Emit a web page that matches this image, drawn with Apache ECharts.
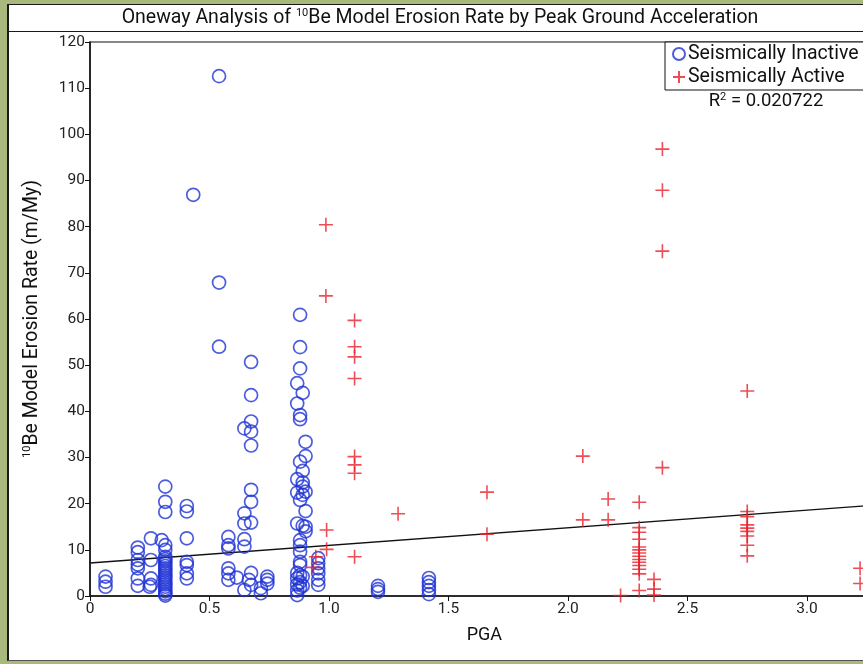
<!DOCTYPE html>
<html>
<head>
<meta charset="utf-8">
<script src="https://cdn.jsdelivr.net/npm/echarts@6/dist/echarts.min.js"></script>
<style>
  html, body { margin: 0; padding: 0; width: 863px; height: 664px; overflow: hidden; background: #a9b87c; }
  #panel { position: absolute; left: 7px; top: 4px; width: 900px; height: 655px; background: #fff;
           border-left: 2px solid #1a1a1a; border-top: 1.5px solid #1a1a1a; border-bottom: 1px solid #555; }
  #sep { position: absolute; left: 9px; top: 31px; width: 900px; height: 0; border-top: 1.5px solid #1a1a1a; }
  #chart { position: absolute; left: 0; top: 0; width: 900px; height: 664px; }
</style>
</head>
<body>
<div id="panel"></div>
<div id="sep"></div>
<div id="chart"></div>
<script>
// ---- data (PGA, erosion rate m/My) ----
const inactive = [
  [0.065, 4.2], [0.065, 3.1], [0.065, 2.0],
  [0.20, 10.5], [0.20, 9.5], [0.20, 7.8], [0.20, 6.8], [0.20, 6.0], [0.20, 3.8], [0.20, 2.2],
  [0.255, 12.5], [0.255, 7.8], [0.255, 3.8], [0.255, 2.4], [0.25, 2.0],
  [0.30, 12.1],
  [0.315, 23.7], [0.315, 20.4], [0.315, 18.2], [0.315, 11.0], [0.315, 10.0], [0.315, 8.5], [0.315, 8.0],
  [0.315, 7.5], [0.315, 7.0], [0.315, 6.5], [0.315, 6.0], [0.315, 5.5], [0.315, 5.0], [0.315, 4.5],
  [0.315, 4.0], [0.315, 3.5], [0.315, 3.0], [0.315, 2.5], [0.315, 2.0], [0.315, 1.5], [0.315, 1.0],
  [0.315, 0.5], [0.315, 0.1],
  [0.405, 19.5], [0.405, 18.3], [0.405, 12.5], [0.405, 7.4], [0.405, 6.7], [0.405, 4.9], [0.405, 3.8],
  [0.432, 86.9],
  [0.54, 112.6], [0.54, 67.9], [0.54, 54.0],
  [0.579, 12.8], [0.579, 11.0], [0.579, 10.3], [0.579, 6.0], [0.579, 4.9], [0.579, 3.5],
  [0.614, 4.0],
  [0.646, 36.3], [0.646, 17.9], [0.646, 15.7], [0.646, 12.3], [0.646, 10.7], [0.646, 1.3],
  [0.674, 50.7], [0.674, 43.5], [0.674, 37.8], [0.674, 35.6], [0.674, 32.6], [0.674, 23.0],
  [0.674, 20.4], [0.674, 15.9], [0.674, 5.0], [0.674, 2.4], [0.665, 3.5],
  [0.715, 0.6], [0.715, 1.7],
  [0.742, 3.5], [0.742, 2.7], [0.742, 4.2],
  [0.867, 46.1], [0.867, 41.7], [0.867, 25.3], [0.867, 22.4], [0.867, 15.7], [0.867, 5.0],
  [0.867, 3.8], [0.867, 2.5], [0.867, 1.2], [0.867, 0.2],
  [0.879, 60.9], [0.879, 53.9], [0.879, 49.3], [0.879, 39.2], [0.879, 38.3], [0.879, 29.1],
  [0.879, 20.8], [0.879, 12.1], [0.879, 11.0], [0.879, 9.6], [0.879, 7.4], [0.879, 6.7],
  [0.879, 4.5], [0.879, 3.0], [0.879, 1.8],
  [0.89, 44.0], [0.89, 27.1], [0.89, 24.6], [0.89, 23.7], [0.89, 21.9], [0.89, 15.2], [0.89, 4.2], [0.89, 2.2],
  [0.902, 33.4], [0.902, 30.3], [0.902, 22.6], [0.902, 18.4], [0.902, 15.0], [0.902, 14.0],
  [0.955, 8.2], [0.955, 7.1], [0.955, 6.0], [0.955, 4.9], [0.955, 3.5], [0.955, 2.4],
  [1.205, 2.2], [1.205, 1.5], [1.205, 0.9],
  [1.418, 3.9], [1.418, 3.0], [1.418, 2.2], [1.418, 1.3], [1.418, 0.4]
];
const active = [
  [0.987, 80.4], [0.987, 65.0],
  [1.107, 59.7], [1.107, 54.0], [1.107, 51.8], [1.107, 47.1], [1.107, 30.2], [1.107, 28.4],
  [1.107, 26.6], [1.107, 8.5],
  [0.99, 14.3], [0.99, 10.1], [0.945, 8.5], [0.935, 6.2],
  [1.289, 17.8],
  [1.661, 22.5], [1.661, 13.4],
  [2.062, 30.3], [2.062, 16.5],
  [2.168, 21.0], [2.168, 16.5],
  [2.22, 0.1],
  [2.298, 20.3], [2.298, 14.8], [2.298, 13.8], [2.298, 12.3], [2.298, 10.6], [2.298, 10.0],
  [2.298, 9.3], [2.298, 8.6], [2.298, 7.9], [2.298, 7.3], [2.298, 6.6], [2.298, 5.8],
  [2.298, 4.8], [2.298, 1.2],
  [2.36, 3.6], [2.36, 1.5], [2.36, 0.2],
  [2.395, 96.8], [2.395, 87.9], [2.395, 74.7], [2.395, 27.8],
  [2.75, 44.4], [2.75, 18.3], [2.75, 17.2], [2.75, 15.4], [2.75, 14.7], [2.75, 14.0],
  [2.75, 13.0], [2.75, 11.0], [2.75, 8.7],
  [3.222, 6.0], [3.222, 2.7]
];
const fitLine = [[0, 7.15], [3.3, 19.75]];
const seriesNames = ['Seismically Inactive', 'Seismically Active'];
const xTickLabels = ['0', '0.5', '1.0', '1.5', '2.0', '2.5', '3.0'];
const yTickLabels = ['0', '10', '20', '30', '40', '50', '60', '70', '80', '90', '100', '110', '120'];
const titleText = 'Oneway Analysis of {sup|10}Be Model Erosion Rate by Peak Ground Acceleration';
const yName = '{sup|10}Be Model Erosion Rate (m/My)';
const xName = 'PGA';
const r2Text = 'R{sup|2} = 0.020722';

const FONT = 'Roboto';
const BLUE = '#1f33d4';
const RED = '#e8202a';
const CROSS = 'path://M0,7H14M7,0V14';

const chart = echarts.init(document.getElementById('chart'), null, { renderer: 'canvas' });
chart.setOption({
  animation: false,
  textStyle: { fontFamily: FONT },
  grid: { left: 90, top: 42, right: 21.3, bottom: 68, show: true, borderColor: '#111', borderWidth: 1.2 },
  graphic: [
    { type: 'text', x: 440, y: 18, z: 10,
      style: { text: titleText, fontFamily: FONT, fontSize: 19.5, fill: '#111', align: 'center', verticalAlign: 'middle',
        rich: { sup: { fontSize: 11, verticalAlign: 'top', padding: [0, 0, 7, 0], fontFamily: FONT, fill: '#111' } } } },
    { type: 'text', x: 766, y: 101, z: 10,
      style: { text: r2Text, fontFamily: FONT, fontSize: 18.5, fill: '#111', align: 'center', verticalAlign: 'middle',
        rich: { sup: { fontSize: 11, verticalAlign: 'top', padding: [0, 0, 7, 0], fontFamily: FONT, fill: '#111' } } } }
  ],
  legend: {
    data: [
      { name: seriesNames[0], icon: 'circle' },
      { name: seriesNames[1], icon: CROSS }
    ],
    orient: 'vertical', left: 665, top: 42,
    padding: [2, 20, 3, 7], itemGap: 3, itemWidth: 12, itemHeight: 12,
    backgroundColor: '#fff', borderColor: '#111', borderWidth: 1, borderRadius: 0,
    textStyle: { fontFamily: FONT, fontSize: 19.5, color: '#111', padding: [0, 0, 0, -2] },
    selectedMode: false
  },
  xAxis: {
    type: 'value', min: 0, max: 3.3, interval: 0.5,
    name: xName, nameLocation: 'middle', nameGap: 30,
    nameTextStyle: { fontFamily: FONT, fontSize: 18, color: '#111' },
    axisLine: { show: true, lineStyle: { color: '#111', width: 1.5 } },
    axisTick: { show: true, inside: false, length: 5, lineStyle: { color: '#111', width: 1 } },
    axisLabel: { fontFamily: FONT, fontSize: 15.5, color: '#222', margin: 5, showMaxLabel: false,
      formatter: v => { const i = Math.round(v / 0.5); return Math.abs(i * 0.5 - v) < 1e-6 && i < xTickLabels.length ? xTickLabels[i] : ''; } },
    splitLine: { show: false }
  },
  yAxis: {
    type: 'value', min: 0, max: 120, interval: 10,
    name: yName, nameLocation: 'middle', nameGap: 48, nameRotate: 90,
    nameTextStyle: { fontFamily: FONT, fontSize: 19.5, color: '#111',
      rich: { sup: { fontSize: 11, verticalAlign: 'top', padding: [0, 0, 7, 0], fontFamily: FONT, color: '#111' } } },
    axisLine: { show: true, lineStyle: { color: '#111', width: 1.5 } },
    axisTick: { show: true, inside: false, length: 5, lineStyle: { color: '#111', width: 1 } },
    axisLabel: { fontFamily: FONT, fontSize: 15.5, color: '#222', margin: 5,
      formatter: v => yTickLabels[Math.round(v / 10)] },
    splitLine: { show: false }
  },
  series: [
    { name: seriesNames[0], type: 'scatter', data: inactive, symbol: 'circle', symbolSize: 13,
      itemStyle: { color: 'transparent', borderColor: BLUE, borderWidth: 1.7 }, z: 3 },
    { name: seriesNames[1], type: 'scatter', data: active, symbol: CROSS, symbolSize: 14,
      itemStyle: { color: 'transparent', borderColor: RED, borderWidth: 1.6 }, z: 4 },
    { name: 'fit', type: 'line', data: fitLine, showSymbol: false, symbol: 'none', silent: true,
      lineStyle: { color: '#111', width: 1.3 }, z: 2 }
  ]
});
</script>
</body>
</html>
